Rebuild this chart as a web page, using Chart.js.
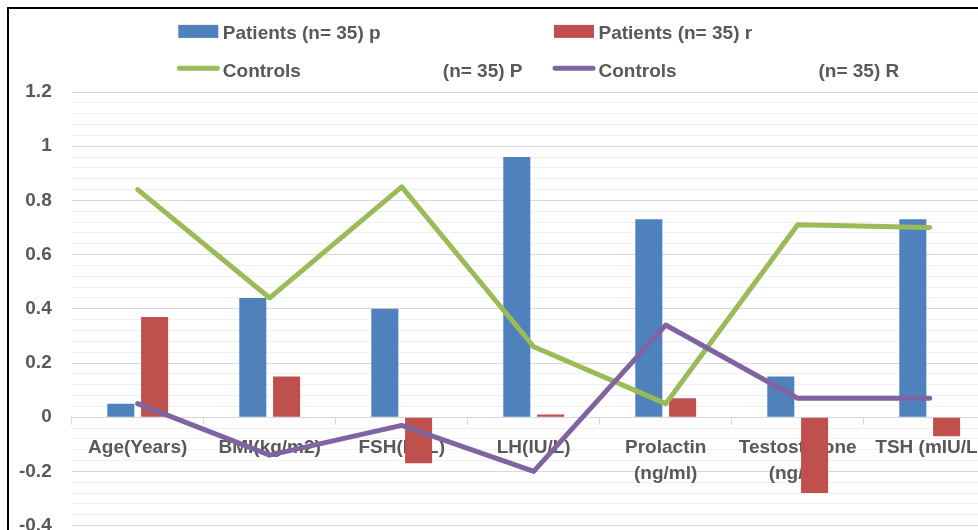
<!DOCTYPE html>
<html>
<head>
<meta charset="utf-8">
<title>Correlation coefficients – patients and controls</title>
<script src="https://cdn.jsdelivr.net/npm/chart.js@4/dist/chart.umd.min.js"></script>
<style>
  html, body { margin: 0; padding: 0; background: #fff; overflow: hidden; width: 978px; height: 530px; }
  #frame { position: absolute; left: 7px; top: 7px; border-left: 2px solid #000; border-top: 2px solid #000; background: #fff; }
  #chart { display: block; }
</style>
</head>
<body>
<div id="frame"><canvas id="chart" width="1000" height="548"></canvas></div>
<script>
// Parameters along the x axis
const categories = [
  'Age(Years)',
  'BMI(kg/m2)',
  'FSH(IU/L)',
  'LH(IU/L)',
  ['Prolactin', '(ng/ml)'],
  ['Testosterone', '(ng/dl)'],
  'TSH (mIU/L)'
];

// Series names (a tab separates the second column of a legend entry)
const seriesLabels = [
  'Patients (n= 35) p',
  'Patients (n= 35) r',
  'Controls\t(n= 35) P',
  'Controls\t(n= 35) R'
];

// Values per series
const patientsP = [0.05, 0.44, 0.40, 0.96, 0.73, 0.15, 0.73];
const patientsR = [0.37, 0.15, -0.17, 0.01, 0.07, -0.28, -0.07];
const controlsP = [0.84, 0.44, 0.85, 0.26, 0.05, 0.71, 0.70];
const controlsR = [0.05, -0.14, -0.03, -0.20, 0.34, 0.07, 0.07];

// Value axis range and tick spacing
const yMin = -0.4;
const yMax = 1.2;
const yMajorStep = 0.2;
const yMinorStep = 0.04;

const FONT = '"Liberation Sans", Arial, sans-serif';
const TEXT = '#595959';

const isMajor = v => Math.abs(v / yMajorStep - Math.round(v / yMajorStep)) < 1e-6;

// Two-column legend drawn above the plot
const gridLegend = {
  id: 'gridLegend',
  afterDraw(chart) {
    const L = { colX: [169.3, 545], boxW: 40, boxH: 13, markMid: [22.4, 59.3], baseline: [29.5, 67.5], textGap: 44.5, tabGap: 264.5 };
    const ctx = chart.ctx;
    ctx.save();
    ctx.font = 'bold 19px ' + FONT;
    ctx.fillStyle = TEXT;
    ctx.textAlign = 'left';
    ctx.textBaseline = 'alphabetic';
    chart.data.datasets.forEach((ds, i) => {
      const col = i % 2, row = Math.floor(i / 2);
      const x = L.colX[col];
      const mid = L.markMid[row];
      if (ds.type === 'line') {
        ctx.save();
        ctx.strokeStyle = ds.borderColor;
        ctx.lineWidth = 5;
        ctx.lineCap = 'round';
        ctx.beginPath();
        ctx.moveTo(x + 1, mid);
        ctx.lineTo(x + L.boxW - 1, mid);
        ctx.stroke();
        ctx.restore();
      } else {
        ctx.fillStyle = ds.backgroundColor;
        ctx.fillRect(x, mid - L.boxH / 2, L.boxW, L.boxH);
        ctx.fillStyle = TEXT;
      }
      const parts = ds.label.split('\t');
      ctx.fillText(parts[0], x + L.textGap, L.baseline[row]);
      if (parts[1]) ctx.fillText(parts[1], x + L.tabGap, L.baseline[row]);
    });
    ctx.restore();
  }
};

new Chart(document.getElementById('chart'), {
  type: 'bar',
  data: {
    labels: categories,
    datasets: [
      { type: 'bar', label: seriesLabels[0], data: patientsP, backgroundColor: '#4F81BD', order: 3,
        categoryPercentage: 0.512, barPercentage: 0.8 },
      { type: 'bar', label: seriesLabels[1], data: patientsR, backgroundColor: '#C0504D', order: 4,
        categoryPercentage: 0.512, barPercentage: 0.8 },
      { type: 'line', label: seriesLabels[2], data: controlsP, borderColor: '#9BBB59', backgroundColor: '#9BBB59',
        borderWidth: 5, pointRadius: 0, tension: 0, borderJoinStyle: 'round', borderCapStyle: 'round', order: 2 },
      { type: 'line', label: seriesLabels[3], data: controlsR, borderColor: '#8064A2', backgroundColor: '#8064A2',
        borderWidth: 5, pointRadius: 0, tension: 0, borderJoinStyle: 'round', borderCapStyle: 'round', order: 1 }
    ]
  },
  options: {
    responsive: false,
    animation: false,
    devicePixelRatio: 1,
    layout: { padding: { left: 0, right: 13.3, top: 83, bottom: 0 } },
    plugins: {
      legend: { display: false },
      tooltip: { enabled: false }
    },
    scales: {
      x: {
        position: { y: 0 },
        offset: true,
        grid: { display: true, drawOnChartArea: false, drawTicks: true, tickLength: 7, color: '#d9d9d9', offset: true },
        border: { display: true, color: '#d9d9d9', width: 1 },
        ticks: {
          autoSkip: false, maxRotation: 0, minRotation: 0, padding: 10, color: TEXT,
          font: { family: FONT, size: 19, weight: 'bold', lineHeight: 1.4 }
        }
      },
      y: {
        min: yMin,
        max: yMax,
        afterFit: s => { s.width = 62.7; },
        grid: {
          drawTicks: false,
          color: c => isMajor(c.tick.value) ? '#d9d9d9' : '#f0f0f0',
          lineWidth: 1
        },
        border: { display: false },
        ticks: {
          stepSize: yMinorStep,
          autoSkip: false,
          maxTicksLimit: 100,
          padding: 20,
          color: TEXT,
          font: { family: FONT, size: 19, weight: 'bold' },
          callback: v => isMajor(v) ? String(Math.round(v / yMajorStep) * yMajorStep * 10 / 10).replace(/(\.\d)\d+$/, '$1') : ''
        }
      }
    }
  },
  plugins: [gridLegend]
});
</script>
</body>
</html>
